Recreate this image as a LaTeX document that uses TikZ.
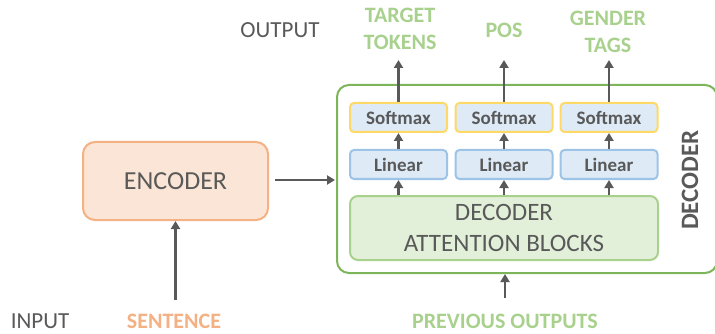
\documentclass[tikz,border=0pt]{standalone}
\usepackage{fontspec}
\setmainfont{Carlito}
\usetikzlibrary{arrows.meta}
\definecolor{txtgray}{HTML}{595959}
\definecolor{decgreen}{HTML}{7DB55A}
\definecolor{lblgreen}{HTML}{A9D18E}
\definecolor{orangeb}{HTML}{F4B183}
\definecolor{orangef}{HTML}{FBE5D6}
\definecolor{bluef}{HTML}{DEEBF7}
\definecolor{blueb}{HTML}{9DC3E6}
\definecolor{yellowb}{HTML}{FFD966}
\definecolor{greenf}{HTML}{E2F0D9}
\tikzset{
  arr/.style={draw=txtgray, line width=2.2pt, -{Triangle[length=8pt,width=9pt]}},
  smbox/.style={draw=yellowb, fill=bluef, line width=2pt, rounded corners=4pt, minimum width=97pt, minimum height=29pt, inner sep=0pt, text=txtgray, font=\bfseries\fontsize{19}{22}\selectfont},
  linbox/.style={draw=blueb, fill=bluef, line width=2pt, rounded corners=4pt, minimum width=97pt, minimum height=29pt, inner sep=0pt, text=txtgray, font=\bfseries\fontsize{19}{22}\selectfont},
  glabel/.style={text=lblgreen, font=\bfseries\fontsize{22}{27}\selectfont, align=center, inner sep=0pt},
  plabel/.style={text=txtgray, font=\fontsize{23}{27}\selectfont, inner sep=0pt}
}
\begin{document}
\begin{tikzpicture}[x=1pt,y=-1pt]
\useasboundingbox (0,0) rectangle (715,334);
% decoder outer
\node[draw=decgreen, fill=white, line width=2pt, rounded corners=12pt, minimum width=380pt, minimum height=188pt, inner sep=0pt] (dec) at (527,179) {};
\node[rotate=90, text=txtgray, font=\bfseries\fontsize{25}{28}\selectfont, inner sep=0pt] (declbl) at (690,180) {DECODER};
% softmax
\node[smbox] (sm1) at (398.5,117.5) {Softmax};
\node[smbox] (sm2) at (504,117.5) {Softmax};
\node[smbox] (sm3) at (609,117.5) {Softmax};
% linear
\node[linbox] (li1) at (398.5,164.5) {Linear};
\node[linbox] (li2) at (504,164.5) {Linear};
\node[linbox] (li3) at (609,164.5) {Linear};
% attention
\node[draw=lblgreen, fill=greenf, line width=2pt, rounded corners=8pt, minimum width=308pt, minimum height=64pt, inner sep=0pt, align=center, text=txtgray, font=\fontsize{25}{31}\selectfont] (att) at (504,228) {DECODER\\ATTENTION BLOCKS};
% encoder
\node[draw=orangeb, fill=orangef, line width=2pt, rounded corners=12pt, minimum width=185pt, minimum height=78pt, inner sep=0pt, text=txtgray, font=\fontsize{26}{30}\selectfont] (enc) at (175.5,181) {ENCODER};
% labels
\node[plabel] (out) at (280,30) {OUTPUT};
\node[plabel] (inp) at (40,321) {INPUT};
\node[glabel] (tt) at (400,29) {TARGET\\TOKENS};
\node[glabel] (pos) at (504,30) {POS};
\node[glabel] (gt) at (608,32) {GENDER\\TAGS};
\node[text=orangeb, font=\bfseries\fontsize{22}{27}\selectfont, inner sep=0pt] (sen) at (174,321) {SENTENCE};
\node[glabel] (prev) at (505,321) {PREVIOUS OUTPUTS};
% coordinates
\coordinate (o1) at (398.5,60);
\coordinate (o2) at (504,60);
\coordinate (o3) at (609,60);
\coordinate (sIn) at (175.5,300);
\coordinate (pIn) at (505,298);
\coordinate (eOut) at (275,180);
\coordinate (dIn) at (335,180);
% arrows
\foreach \i in {1,2,3}{
  \draw[arr] (sm\i.north) -- (o\i);
  \draw[arr] (li\i.north) -- (sm\i.south);
  \draw[arr] (att.north -| li\i) -- (li\i.south);
}
\draw[arr] (sIn) -- (enc.south);
\draw[arr] (eOut) -- (dIn);
\draw[arr] (pIn) -- (dec.south -| pIn);
\end{tikzpicture}
\end{document}
